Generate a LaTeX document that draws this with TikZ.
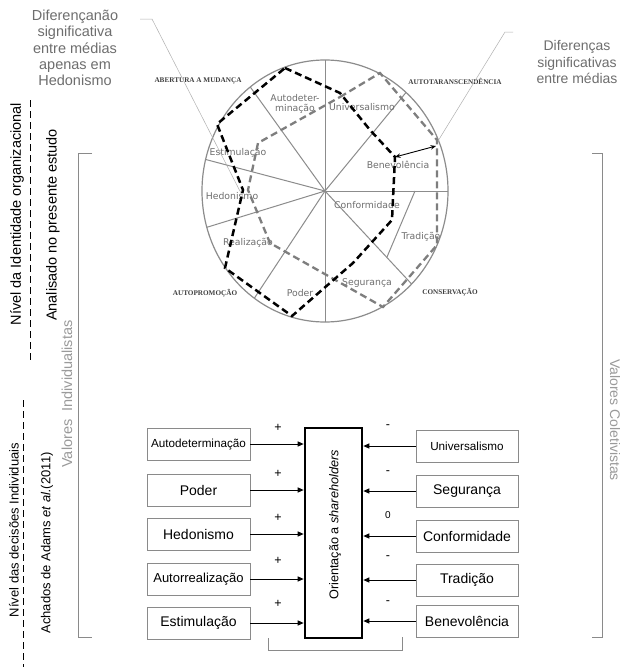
\documentclass[tikz,border=0pt]{standalone}
\usepackage{fontspec}
\setmainfont{Liberation Sans}
\newfontfamily\dvfont{DejaVu Sans}
\newfontfamily\capfont{Liberation Serif}
\usetikzlibrary{arrows.meta}
\definecolor{txtgray}{HTML}{6E6E6E}
\definecolor{lightgr}{HTML}{9A9A9A}
\definecolor{wheelgr}{HTML}{8C8C8C}
\definecolor{dashgr}{HTML}{7E7E7E}
\definecolor{boxgr}{HTML}{8A8A8A}
\definecolor{leadgr}{HTML}{B0B0B0}
\newcommand{\fsz}[2]{\fontsize{#1}{#2}\selectfont}
\tikzset{
  wheelline/.style={draw=wheelgr, line width=1pt},
  wlabel/.style={text=txtgray, font=\dvfont\fsz{9.3}{11}, inner sep=0pt, align=center},
  catlabel/.style={text=black!75, font=\capfont\bfseries\fsz{7.2}{8}, inner sep=0pt},
  blackdash/.style={draw=black, line width=2.5pt, dash pattern=on 7pt off 4pt},
  graydash/.style={draw=dashgr, line width=2.3pt, dash pattern=on 7pt off 4pt},
  leader/.style={draw=leadgr, line width=0.5pt},
  bracket/.style={draw=boxgr, line width=0.8pt},
  sidetext/.style={font=\fsz{14.5}{16}, inner sep=0pt},
  valbox/.style={draw=boxgr, line width=0.7pt, minimum width=103, minimum height=32, inner sep=0pt, font=\fsz{14}{16}},
  sign/.style={font=\fsz{12.5}{13}, inner sep=0pt},
  arr/.style={draw=black, line width=1pt, -{Triangle[length=6pt,width=5pt]}},
}
\begin{document}
\begin{tikzpicture}[x=1pt,y=-1pt]
\useasboundingbox (0,0) rectangle (620,672);
\clip (0,0) rectangle (620,672);
\fill[white] (0,0) rectangle (620,672);

% ---------- wheel ----------
\coordinate (C) at (325,191);
\begin{scope}
  \clip (C) ellipse [x radius=123, y radius=131];
  \draw[wheelline] (C) -- (325,40);
  \draw[wheelline] (C) -- (325,340);
  \draw[wheelline] (C) -- (470,191);
  \draw[wheelline] (C) -- (228,56);
  \draw[wheelline] (C) -- (436,56);
  \draw[wheelline] (C) -- (166,149);
  \draw[wheelline] (C) -- (172,238);
  \draw[wheelline] (C) -- (240,320);
  \draw[wheelline] (C) -- (433,307);
  \draw[wheelline] (415,191) -- (387,257);
\end{scope}
\draw[wheelgr, line width=1.2pt] (C) ellipse [x radius=123, y radius=131];

\node[wlabel] (wAut) at (295,104) {Autodeter-\\[-1pt]minação};
\node[wlabel] (wUni) at (362,107) {Universalismo};
\node[wlabel] (wEst) at (238,153) {Estimulação};
\node[wlabel] (wBen) at (398,165) {Benevolência};
\node[wlabel] (wHed) at (232,196) {Hedonismo};
\node[wlabel] (wCon) at (367,205) {Conformidade};
\node[wlabel] (wRea) at (248,243) {Realização};
\node[wlabel] (wTra) at (421,237) {Tradição};
\node[wlabel] (wPod) at (300,293) {Poder};
\node[wlabel] (wSeg) at (367,283) {Segurança};

\node[catlabel] (cAb) at (198,81) {ABERTURA A MUDANÇA};
\node[catlabel] (cAt) at (455,81) {AUTOTARANSCENDÊNCIA};
\node[catlabel] (cAp) at (205,293) {AUTOPROMOÇÃO};
\node[catlabel] (cCo) at (450,292) {CONSERVAÇÃO};

% polygons
\draw[graydash] (340,97) -- (380,73) -- (437,140) -- (437,245) -- (383,307) -- (270,243) -- (248,190) -- (258,143) -- cycle;
\draw[blackdash] (285,68) -- (340,93) -- (370,130) -- (395,157) -- (392,220) -- (353,263) -- (292,316) -- (225,268) -- (243,190) -- (217,124) -- cycle;

% difference arrow
\coordinate (bv) at (395,157);
\coordinate (gv) at (436,146);
\draw[black, line width=0.9pt, {Stealth[length=5.5pt,width=4.5pt]}-{Stealth[length=5.5pt,width=4.5pt]}] (bv) -- (gv);

% leaders and notes
\coordinate (lA) at (140,19);
\coordinate (lB) at (152,19);
\coordinate (lC) at (244,199);
\draw[leader] (lA) -- (lB) -- (lC);
\coordinate (rA) at (513,32);
\coordinate (rB) at (505,32);
\coordinate (rC) at (438,141);
\draw[leader] (rA) -- (rB) -- (rC);

\node[text=txtgray, font=\fsz{14.5}{16.3}, align=center, inner sep=0pt] (noteL) at (75,48)
  {Diferençanão\\significativa\\entre médias\\apenas em\\Hedonismo};
\node[text=txtgray, font=\fsz{14}{16.8}, align=center, inner sep=0pt] (noteR) at (577,62)
  {Diferenças\\significativas\\entre médias};

% ---------- left side ----------
\node[sidetext, rotate=90] (nivA) at (17,214) {Nível da Identidade organizacional};
\coordinate (dA1) at (30,100);
\coordinate (dA2) at (30,360);
\draw[black, line width=0.8pt, dash pattern=on 7pt off 4pt] (dA1) -- (dA2);
\node[sidetext, rotate=90] (anal) at (53,225) {Analisado no presente estudo};
\node[sidetext, rotate=90, text=lightgr] (vInd) at (67,394) {Valores\ \ Individualistas};
\coordinate (dB1) at (23,400);
\coordinate (dB2) at (23,667);
\draw[black, line width=0.8pt, dash pattern=on 7pt off 4pt] (dB1) -- (dB2);
\node[sidetext, rotate=90, font=\fsz{13}{15}] (nivB) at (14,530) {Nível das decisões Individuais};
\node[sidetext, rotate=90, font=\fsz{13}{15}] (acha) at (47,543) {Achados de Adams \textit{et al.}(2011)};

\coordinate (bl1) at (92,153);
\coordinate (bl2) at (78,153);
\coordinate (bl3) at (78,637);
\coordinate (bl4) at (92,637);
\draw[bracket] (bl1) -- (bl2) -- (bl3) -- (bl4);

% ---------- right side ----------
\coordinate (br1) at (592,153);
\coordinate (br2) at (602,153);
\coordinate (br3) at (602,637);
\coordinate (br4) at (592,637);
\draw[bracket] (br1) -- (br2) -- (br3) -- (br4);
\node[sidetext, rotate=-90, text=lightgr, font=\fsz{14}{16}] (vCol) at (615,420) {Valores Coletivistas};

% ---------- bottom model ----------
\node[draw=black, line width=2.6pt, minimum width=57, minimum height=210, inner sep=0pt] (O) at (333.5,533) {};
\node[rotate=90, font=\fsz{12.7}{14}, inner sep=0pt] (Otxt) at (335,525) {Orientação a \textit{shareholders}};

\node[valbox, font=\fsz{11.7}{13}] (L1) at (198.5,444) {Autodeterminação};
\node[valbox] (L2) at (198.5,490) {Poder};
\node[valbox] (L3) at (198.5,534) {Hedonismo};
\node[valbox, font=\fsz{13}{15}] (L4) at (198.5,579) {Autorrealização};
\node[valbox] (L5) at (198.5,623) {Estimulação};

\node[valbox, minimum width=102, font=\fsz{11.7}{13}] (R1) at (467,446) {Universalismo};
\node[valbox, minimum width=102] (R2) at (467,491) {Segurança};
\node[valbox, minimum width=102] (R3) at (467,536) {Conformidade};
\node[valbox, minimum width=102] (R4) at (467,580) {Tradição};
\node[valbox, minimum width=102] (R5) at (467,621) {Benevolência};

\foreach \n in {L1,L2,L3,L4,L5} {
  \draw[arr] (\n.east) -- (\n.east -| O.west);
}
\foreach \n in {R1,R2,R3,R4,R5} {
  \draw[arr] (\n.west) -- (\n.west -| O.east);
}

\node[sign] (s1) at (278,428) {+};
\node[sign] (s2) at (278,474) {+};
\node[sign] (s3) at (278,518) {+};
\node[sign] (s4) at (278,561) {+};
\node[sign] (s5) at (278,604) {+};
\node[sign] (t1) at (388,427) {-};
\node[sign] (t2) at (388,473) {-};
\node[sign, font=\fsz{10}{11}] (t3) at (388,515) {0};
\node[sign] (t4) at (388,558) {-};
\node[sign] (t5) at (388,603) {-};

\coordinate (bb1) at (268,638);
\coordinate (bb2) at (268,650);
\coordinate (bb3) at (402,650);
\coordinate (bb4) at (402,637);
\draw[bracket] (bb1) -- (bb2) -- (bb3) -- (bb4);
\end{tikzpicture}
\end{document}
